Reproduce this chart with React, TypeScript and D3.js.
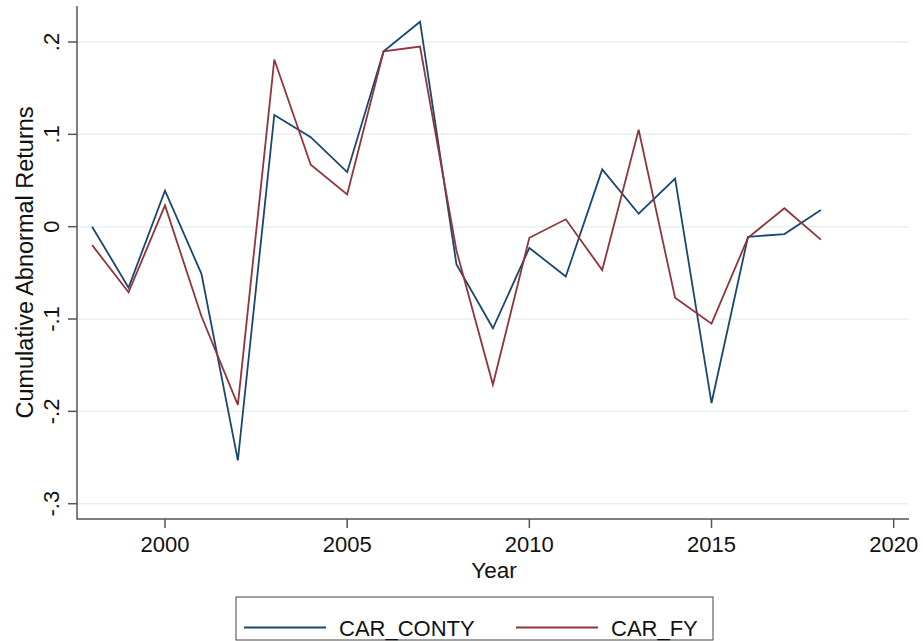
import React, { useEffect, useRef } from "react";
import * as d3 from "d3";

const years = [
  1998, 1999, 2000, 2001, 2002, 2003, 2004, 2005, 2006, 2007, 2008,
  2009, 2010, 2011, 2012, 2013, 2014, 2015, 2016, 2017, 2018,
];

const carConty = [
  0.0, -0.066, 0.039, -0.051, -0.253, 0.121, 0.097, 0.059, 0.19, 0.222, -0.041,
  -0.11, -0.023, -0.054, 0.062, 0.014, 0.052, -0.191, -0.011, -0.008, 0.018,
];

const carFy = [
  -0.02, -0.071, 0.023, -0.097, -0.193, 0.181, 0.067, 0.035, 0.19, 0.195, -0.026,
  -0.171, -0.012, 0.008, -0.047, 0.105, -0.077, -0.105, -0.012, 0.02, -0.014,
];

const xTicks = [2000, 2005, 2010, 2015, 2020];
const yTicks = [0.2, 0.1, 0, -0.1, -0.2, -0.3];
const yTickLabels = [".2", ".1", "0", "-.1", "-.2", "-.3"];

const seriesNames = ["CAR_CONTY", "CAR_FY"];
const seriesColors = ["#1a476f", "#90353b"];

const FONT = "'Liberation Sans', Arial, Helvetica, sans-serif";

export default function App() {
  const ref = useRef<SVGSVGElement | null>(null);

  useEffect(() => {
    document.body.style.margin = "0";
    if (!ref.current) return;
    const svg = d3.select(ref.current);
    svg.selectAll("*").remove();

    const left = 77;
    const right = 909;
    const top = 6;
    const bottom = 519;

    // year 2000 -> 165, 2020 -> 893.7
    const x = d3.scaleLinear().domain([2000, 2020]).range([165, 893.7]);
    // .2 -> 42, -.3 -> 503.7
    const y = d3.scaleLinear().domain([-0.3, 0.2]).range([503.7, 42]);

    // gridlines
    svg
      .append("g")
      .selectAll("line")
      .data(yTicks)
      .enter()
      .append("line")
      .attr("x1", left)
      .attr("x2", right)
      .attr("y1", (d) => y(d))
      .attr("y2", (d) => y(d))
      .attr("stroke", "#e8f0f2")
      .attr("stroke-width", 1.5);

    // axes
    const axisColor = "#555";
    svg
      .append("line")
      .attr("x1", left)
      .attr("x2", left)
      .attr("y1", top)
      .attr("y2", bottom + 0.5)
      .attr("stroke", axisColor)
      .attr("stroke-width", 1.5);
    svg
      .append("line")
      .attr("x1", left)
      .attr("x2", right)
      .attr("y1", bottom)
      .attr("y2", bottom)
      .attr("stroke", axisColor)
      .attr("stroke-width", 1.5);

    // y ticks + labels
    const yg = svg.append("g");
    yTicks.forEach((t, i) => {
      yg.append("line")
        .attr("x1", left - 9)
        .attr("x2", left)
        .attr("y1", y(t))
        .attr("y2", y(t))
        .attr("stroke", axisColor)
        .attr("stroke-width", 1.5);
      yg.append("text")
        .attr("transform", `translate(59,${y(t)}) rotate(-90)`)
        .attr("text-anchor", "middle")
        .attr("font-family", FONT)
        .attr("font-size", 22)
        .attr("fill", "#111")
        .text(yTickLabels[i]);
    });

    // x ticks + labels
    const xg = svg.append("g");
    xTicks.forEach((t) => {
      xg.append("line")
        .attr("x1", x(t))
        .attr("x2", x(t))
        .attr("y1", bottom)
        .attr("y2", bottom + 9)
        .attr("stroke", axisColor)
        .attr("stroke-width", 1.5);
      xg.append("text")
        .attr("x", x(t))
        .attr("y", 551.7)
        .attr("text-anchor", "middle")
        .attr("font-family", FONT)
        .attr("font-size", 22)
        .attr("fill", "#111")
        .text(String(t));
    });

    // axis titles
    svg
      .append("text")
      .attr("x", 494)
      .attr("y", 578)
      .attr("text-anchor", "middle")
      .attr("font-family", FONT)
      .attr("font-size", 22.5)
      .attr("fill", "#111")
      .text("Year");
    svg
      .append("text")
      .attr("transform", `translate(33,${(top + bottom) / 2}) rotate(-90)`)
      .attr("text-anchor", "middle")
      .attr("font-family", FONT)
      .attr("font-size", 23.5)
      .attr("fill", "#111")
      .text("Cumulative Abnormal Returns");

    // lines
    const line = d3
      .line<number>()
      .x((_, i) => x(years[i]))
      .y((d) => y(d));

    [carConty, carFy].forEach((s, i) => {
      svg
        .append("path")
        .datum(s)
        .attr("d", line)
        .attr("fill", "none")
        .attr("stroke", seriesColors[i])
        .attr("stroke-width", 1.8)
        .attr("stroke-linejoin", "miter");
    });

    // legend
    const lg = svg.append("g");
    lg.append("rect")
      .attr("x", 236)
      .attr("y", 597)
      .attr("width", 477)
      .attr("height", 43)
      .attr("fill", "white")
      .attr("stroke", "#444")
      .attr("stroke-width", 1);
    const legendX = [244, 516];
    seriesNames.forEach((name, i) => {
      lg.append("line")
        .attr("x1", legendX[i])
        .attr("x2", legendX[i] + 82)
        .attr("y1", 627.5)
        .attr("y2", 627.5)
        .attr("stroke", seriesColors[i])
        .attr("stroke-width", 1.8);
      lg.append("text")
        .attr("x", legendX[i] + 95)
        .attr("y", 636)
        .attr("font-family", FONT)
        .attr("font-size", 22)
        .attr("fill", "#111")
        .text(name);
    });
  }, []);

  return <svg ref={ref} width={923} height={641} style={{ display: "block", background: "white" }} />;
}
